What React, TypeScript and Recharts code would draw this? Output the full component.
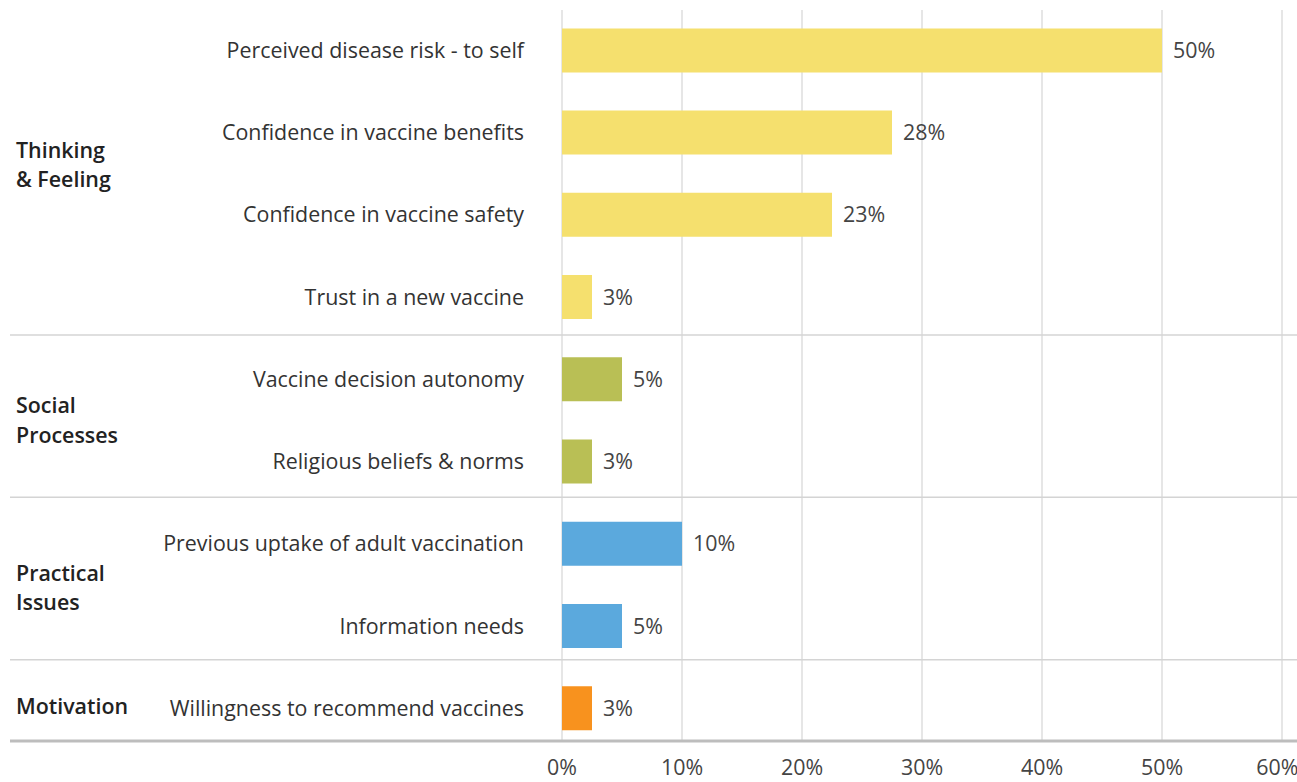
import { Bar, BarChart, CartesianGrid, Cell, LabelList, XAxis, YAxis } from 'recharts';

const categories = [
  'Perceived disease risk - to self',
  'Confidence in vaccine benefits',
  'Confidence in vaccine safety',
  'Trust in a new vaccine',
  'Vaccine decision autonomy',
  'Religious beliefs & norms',
  'Previous uptake of adult vaccination',
  'Information needs',
  'Willingness to recommend vaccines',
];
const values = [50, 27.5, 22.5, 2.5, 5, 2.5, 10, 5, 2.5];
const groupLines = [['Thinking', '& Feeling'], ['Social', 'Processes'], ['Practical', 'Issues'], ['Motivation']];
const groupSizes = [4, 2, 2, 1];
const groupColors = ['#f5e06e', '#b9bf55', '#5ba9dd', '#f8921e'];
const xTicks = [0, 10, 20, 30, 40, 50, 60];

const W = 1297;
const H = 782;
const TOP = 10;
const BOTTOM = 41;
const PAD_TOP = -0.6;
const PAD_BOTTOM = -8.4;
const SEP_BAND = (H - TOP - BOTTOM) / categories.length;
const BAR_BAND = (H - TOP - BOTTOM - PAD_TOP - PAD_BOTTOM) / categories.length;
const GROUP_DY = [-9, 0, 3, -2];
const FS = 21.4;
const FONT = '"Open Sans", "Noto Sans", sans-serif';

// row -> group index, first/last flags
const rowInfo = categories.map((_, i) => {
  let start = 0;
  for (let g = 0; g < groupSizes.length; g++) {
    const end = start + groupSizes[g];
    if (i < end) return { group: g, first: i === start, last: i === end - 1 };
    start = end;
  }
  return { group: 0, first: false, last: false };
});

const data = categories.map((name, i) => ({ name, value: values[i], group: rowInfo[i].group }));

function CategoryTick(props: any) {
  const { x, y, payload } = props;
  const i = categories.indexOf(payload.value);
  const info = rowInfo[i];
  const n = groupSizes[info.group];
  const lines = groupLines[info.group];
  const gy = y + ((n - 1) * BAR_BAND) / 2 + GROUP_DY[info.group];
  const isEnd = i === categories.length - 1;
  const sepY = TOP + SEP_BAND * (i + 1);
  return (
    <g>
      <text x={x} y={y} dy="0.35em" textAnchor="end" fill="#333" fontSize={FS} fontFamily={FONT}>
        {payload.value}
      </text>
      {info.first && (
        <text x={16} y={gy} fill="#222" fontSize={FS} fontWeight={600} fontFamily={FONT}>
          {lines.map((l, k) => (
            <tspan key={k} x={16} dy={k === 0 ? `${0.35 - (lines.length - 1) * 0.68}em` : '1.36em'}>
              {l}
            </tspan>
          ))}
        </text>
      )}
      {info.last && (
        <line
          x1={10}
          x2={W}
          y1={sepY}
          y2={sepY}
          stroke={isEnd ? '#bdbdbd' : '#d4d4d4'}
          strokeWidth={isEnd ? 3 : 1.5}
        />
      )}
    </g>
  );
}

export default function App() {
  return (
    <div style={{ position: 'absolute', left: 0, top: 0, width: W, height: H, background: '#fff', fontFamily: FONT }}>
      <BarChart width={W} height={H} data={data} layout="vertical" margin={{ top: TOP, right: 15, bottom: 0, left: 0 }}>
        <CartesianGrid horizontal={false} stroke="#dedede" strokeWidth={1.5} />
        <XAxis
          type="number"
          domain={[0, 60]}
          ticks={xTicks}
          tickFormatter={(v: number) => `${v}%`}
          height={BOTTOM}
          axisLine={false}
          tickLine={false}
          tickSize={0}
          tickMargin={19}
          tick={{ fontSize: FS, fill: '#444', fontFamily: FONT }}
        />
        <YAxis
          type="category"
          dataKey="name"
          width={562}
          axisLine={false}
          tickLine={false}
          tickSize={0}
          tickMargin={38}
          interval={0}
          padding={{ top: PAD_TOP, bottom: PAD_BOTTOM }}
          tick={<CategoryTick />}
        />
        <Bar dataKey="value" barSize={44} isAnimationActive={false}>
          {data.map((d, i) => (
            <Cell key={i} fill={groupColors[d.group]} />
          ))}
          <LabelList
            dataKey="value"
            position="right"
            offset={11}
            formatter={(v: any) => `${Math.round(Number(v))}%`}
            fill="#444"
            fontSize={FS}
            fontFamily={FONT}
          />
        </Bar>
      </BarChart>
    </div>
  );
}
